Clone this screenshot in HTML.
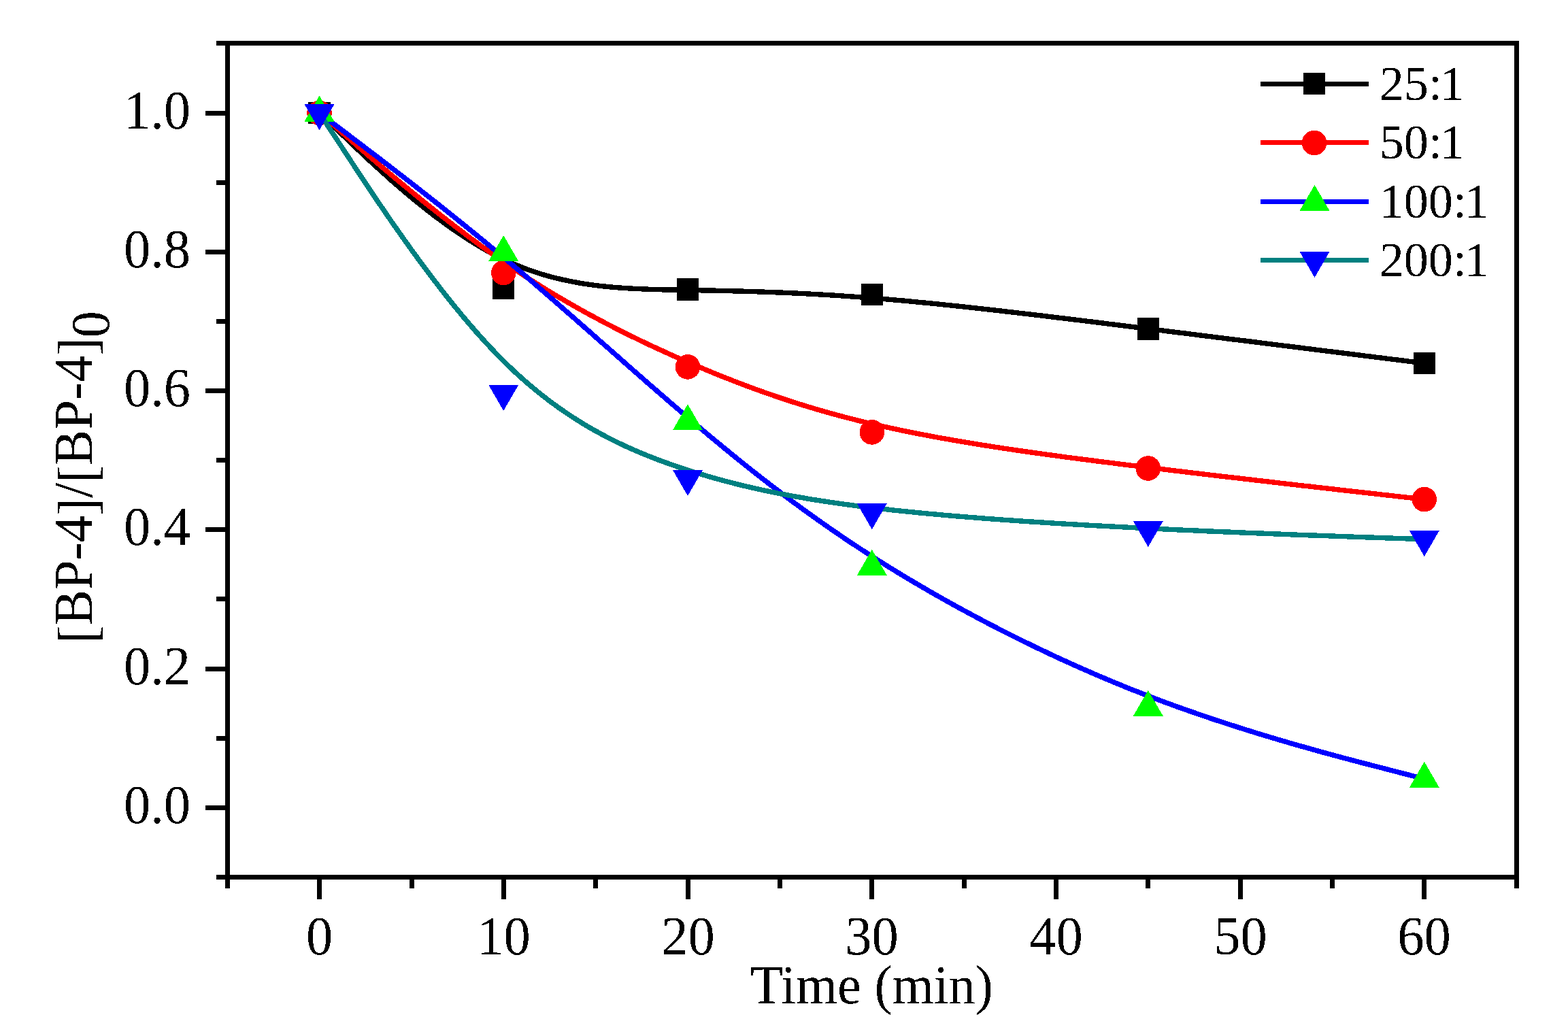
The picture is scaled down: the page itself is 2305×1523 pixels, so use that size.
<!DOCTYPE html>
<html lang="en"><head><meta charset="utf-8"><title>[BP-4]/[BP-4]0 vs Time (min)</title>
<style>html,body{margin:0;padding:0;background:#fff;}body{width:2305px;height:1523px;overflow:hidden;}svg{display:block;}text{font-family:"Liberation Serif","DejaVu Serif",serif;fill:#000;}</style>
</head><body>
<svg width="2305" height="1523" viewBox="0 0 2305 1523" role="img" aria-label="Line chart of [BP-4]/[BP-4]0 versus time">
<rect x="0" y="0" width="2305" height="1523" fill="#fff"/>
<defs><filter id="crisp" filterUnits="userSpaceOnUse" x="0" y="0" width="2305" height="1523" color-interpolation-filters="sRGB"><feComponentTransfer><feFuncA type="discrete" tableValues="0 1"/></feComponentTransfer></filter></defs>
<g shape-rendering="crispEdges">
<path d="M469.5,166.0 L469.5,166.0 L469.5,166.0 L469.5,166.0 L469.5,166.0 L469.6,166.1 L469.6,166.1 L469.7,166.2 L469.8,166.3 L469.9,166.4 L470.1,166.6 L470.3,166.7 L470.5,167.0 L470.8,167.2 L471.1,167.5 L471.5,167.9 L471.9,168.3 L472.3,168.7 L472.9,169.2 L473.5,169.8 L474.1,170.4 L474.9,171.1 L475.7,171.9 L476.5,172.7 L477.5,173.6 L478.5,174.6 L479.7,175.7 L480.9,176.9 L482.2,178.1 L483.6,179.5 L485.1,180.9 L486.7,182.4 L488.5,184.1 L490.3,185.8 L492.3,187.7 L494.3,189.7 L496.5,191.7 L498.8,193.9 L501.3,196.3 L503.8,198.7 L506.6,201.3 L509.4,204.0 L512.4,206.9 L515.5,209.9 L518.8,213.0 L522.2,216.3 L525.8,219.6 L529.5,223.2 L533.4,226.8 L537.3,230.5 L541.4,234.3 L545.6,238.3 L550.0,242.3 L554.4,246.3 L559.0,250.5 L563.7,254.7 L568.5,259.0 L573.3,263.4 L578.3,267.8 L583.4,272.2 L588.6,276.6 L593.8,281.1 L599.2,285.6 L604.6,290.2 L610.1,294.7 L615.7,299.2 L621.3,303.8 L627.0,308.3 L632.8,312.8 L638.7,317.3 L644.6,321.7 L650.5,326.1 L656.5,330.4 L662.6,334.8 L668.6,339.0 L674.8,343.2 L680.9,347.3 L687.1,351.3 L693.4,355.3 L699.6,359.1 L705.9,362.9 L712.2,366.5 L718.5,370.1 L724.8,373.5 L731.2,376.8 L737.5,379.9 L743.8,383.0 L750.2,385.9 L756.5,388.6 L762.9,391.2 L769.2,393.7 L775.5,396.1 L781.9,398.3 L788.2,400.5 L794.5,402.5 L800.9,404.4 L807.2,406.2 L813.6,407.9 L819.9,409.4 L826.2,410.9 L832.6,412.3 L838.9,413.6 L845.3,414.8 L851.6,416.0 L857.9,417.0 L864.3,418.0 L870.6,418.9 L877.0,419.7 L883.3,420.5 L889.6,421.1 L896.0,421.8 L902.3,422.3 L908.7,422.9 L915.0,423.3 L921.3,423.7 L927.7,424.1 L934.0,424.4 L940.4,424.7 L946.7,425.0 L953.0,425.2 L959.4,425.4 L965.7,425.6 L972.1,425.8 L978.4,425.9 L984.7,426.0 L991.1,426.1 L997.4,426.2 L1003.8,426.4 L1010.1,426.5 L1016.4,426.6 L1022.8,426.7 L1029.1,426.8 L1035.5,426.9 L1041.8,427.0 L1048.2,427.1 L1054.6,427.3 L1061.0,427.4 L1067.4,427.6 L1073.8,427.7 L1080.2,427.9 L1086.7,428.0 L1093.1,428.2 L1099.6,428.4 L1106.1,428.6 L1112.7,428.8 L1119.3,429.0 L1125.9,429.3 L1132.5,429.5 L1139.2,429.8 L1145.9,430.0 L1152.6,430.3 L1159.4,430.6 L1166.2,430.9 L1173.0,431.2 L1179.9,431.6 L1186.9,431.9 L1193.9,432.3 L1200.9,432.7 L1208.0,433.1 L1215.1,433.5 L1222.3,433.9 L1229.6,434.4 L1236.9,434.9 L1244.2,435.4 L1251.7,435.9 L1259.1,436.4 L1266.7,437.0 L1274.3,437.6 L1282.0,438.2 L1289.7,438.8 L1297.6,439.4 L1305.5,440.1 L1313.4,440.8 L1321.5,441.5 L1329.6,442.2 L1337.8,443.0 L1346.0,443.8 L1354.3,444.6 L1362.7,445.4 L1371.1,446.2 L1379.6,447.1 L1388.2,448.0 L1396.8,448.9 L1405.5,449.8 L1414.2,450.7 L1423.0,451.7 L1431.8,452.6 L1440.7,453.6 L1449.6,454.6 L1458.5,455.6 L1467.5,456.6 L1476.6,457.7 L1485.7,458.7 L1494.8,459.8 L1503.9,460.9 L1513.1,461.9 L1522.4,463.0 L1531.6,464.1 L1540.9,465.2 L1550.2,466.4 L1559.5,467.5 L1568.9,468.6 L1578.3,469.8 L1587.7,470.9 L1597.1,472.1 L1606.5,473.2 L1616.0,474.4 L1625.4,475.6 L1634.9,476.8 L1644.4,477.9 L1653.9,479.1 L1663.4,480.3 L1672.9,481.5 L1682.4,482.7 L1691.9,483.8 L1701.4,485.0 L1710.9,486.2 L1720.4,487.4 L1729.8,488.6 L1739.3,489.7 L1748.7,490.9 L1758.1,492.1 L1767.4,493.3 L1776.7,494.4 L1785.9,495.6 L1795.1,496.7 L1804.3,497.9 L1813.3,499.0 L1822.3,500.1 L1831.3,501.2 L1840.1,502.3 L1848.9,503.4 L1857.5,504.5 L1866.1,505.6 L1874.6,506.6 L1882.9,507.7 L1891.2,508.7 L1899.3,509.7 L1907.3,510.7 L1915.2,511.7 L1923.0,512.7 L1930.6,513.6 L1938.1,514.6 L1945.4,515.5 L1952.6,516.4 L1959.6,517.2 L1966.4,518.1 L1973.1,518.9 L1979.6,519.7 L1985.9,520.5 L1992.1,521.3 L1998.0,522.0 L2003.8,522.8 L2009.3,523.5 L2014.7,524.1 L2019.8,524.8 L2024.8,525.4 L2029.5,526.0 L2034.0,526.5 L2038.2,527.1 L2042.3,527.6 L2046.2,528.1 L2049.8,528.5 L2053.3,528.9 L2056.6,529.4 L2059.7,529.7 L2062.6,530.1 L2065.3,530.4 L2067.9,530.8 L2070.4,531.1 L2072.6,531.4 L2074.7,531.6 L2076.7,531.9 L2078.5,532.1 L2080.2,532.3 L2081.8,532.5 L2083.2,532.7 L2084.6,532.8 L2085.8,533.0 L2086.9,533.1 L2087.8,533.3 L2088.7,533.4 L2089.5,533.5 L2090.2,533.6 L2090.9,533.6 L2091.4,533.7 L2091.9,533.8 L2092.3,533.8 L2092.6,533.9 L2092.9,533.9 L2093.2,533.9 L2093.4,533.9 L2093.5,534.0 L2093.6,534.0 L2093.7,534.0 L2093.7,534.0 L2093.8,534.0 L2093.8,534.0 L2093.8,534.0 L2093.8,534.0" fill="none" stroke="#000" stroke-width="7.4" stroke-linejoin="round" stroke-linecap="butt"/>
<rect x="453" y="150" width="33" height="32" fill="#000"/>
<rect x="724" y="408" width="32" height="32" fill="#000"/>
<rect x="995" y="409" width="32" height="33" fill="#000"/>
<rect x="1266" y="417" width="32" height="32" fill="#000"/>
<rect x="1672" y="467" width="32" height="33" fill="#000"/>
<rect x="2078" y="518" width="32" height="32" fill="#000"/>
<path d="M469.5,166.0 L469.5,166.0 L469.5,166.0 L469.5,166.0 L469.5,166.0 L469.6,166.1 L469.6,166.1 L469.7,166.2 L469.8,166.3 L469.9,166.4 L470.1,166.5 L470.3,166.7 L470.5,166.9 L470.8,167.1 L471.1,167.4 L471.5,167.7 L471.9,168.1 L472.3,168.5 L472.9,168.9 L473.5,169.4 L474.1,170.0 L474.9,170.7 L475.7,171.4 L476.5,172.1 L477.5,172.9 L478.5,173.9 L479.7,174.8 L480.9,175.9 L482.2,177.0 L483.6,178.3 L485.1,179.6 L486.7,181.0 L488.5,182.5 L490.3,184.1 L492.3,185.8 L494.3,187.5 L496.5,189.4 L498.8,191.5 L501.3,193.6 L503.8,195.8 L506.6,198.2 L509.4,200.6 L512.4,203.2 L515.5,206.0 L518.8,208.8 L522.2,211.8 L525.8,214.9 L529.5,218.1 L533.4,221.4 L537.3,224.8 L541.4,228.4 L545.6,232.0 L550.0,235.7 L554.4,239.5 L559.0,243.4 L563.7,247.4 L568.5,251.4 L573.3,255.5 L578.3,259.7 L583.4,264.0 L588.6,268.3 L593.8,272.7 L599.2,277.1 L604.6,281.6 L610.1,286.1 L615.7,290.6 L621.3,295.2 L627.0,299.8 L632.8,304.4 L638.7,309.1 L644.6,313.8 L650.5,318.5 L656.5,323.1 L662.6,327.8 L668.6,332.5 L674.8,337.2 L680.9,341.9 L687.1,346.6 L693.4,351.3 L699.6,355.9 L705.9,360.5 L712.2,365.1 L718.5,369.6 L724.8,374.1 L731.2,378.6 L737.5,383.0 L743.8,387.4 L750.2,391.7 L756.5,396.0 L762.9,400.2 L769.2,404.3 L775.5,408.5 L781.9,412.5 L788.2,416.5 L794.5,420.5 L800.9,424.4 L807.2,428.3 L813.6,432.1 L819.9,435.9 L826.2,439.6 L832.6,443.3 L838.9,447.0 L845.3,450.6 L851.6,454.2 L857.9,457.7 L864.3,461.2 L870.6,464.6 L877.0,468.0 L883.3,471.4 L889.6,474.7 L896.0,478.0 L902.3,481.3 L908.7,484.5 L915.0,487.7 L921.3,490.9 L927.7,494.0 L934.0,497.1 L940.4,500.2 L946.7,503.2 L953.0,506.2 L959.4,509.2 L965.7,512.1 L972.1,515.0 L978.4,517.9 L984.7,520.8 L991.1,523.6 L997.4,526.4 L1003.8,529.2 L1010.1,531.9 L1016.4,534.7 L1022.8,537.4 L1029.1,540.1 L1035.5,542.7 L1041.8,545.4 L1048.2,548.0 L1054.6,550.6 L1061.0,553.2 L1067.4,555.7 L1073.8,558.2 L1080.2,560.8 L1086.7,563.2 L1093.1,565.7 L1099.6,568.1 L1106.1,570.5 L1112.7,572.9 L1119.3,575.3 L1125.9,577.6 L1132.5,579.9 L1139.2,582.2 L1145.9,584.5 L1152.6,586.7 L1159.4,589.0 L1166.2,591.2 L1173.0,593.3 L1179.9,595.5 L1186.9,597.6 L1193.9,599.7 L1200.9,601.8 L1208.0,603.9 L1215.1,605.9 L1222.3,607.9 L1229.6,609.9 L1236.9,611.9 L1244.2,613.8 L1251.7,615.7 L1259.1,617.6 L1266.7,619.5 L1274.3,621.3 L1282.0,623.2 L1289.7,625.0 L1297.6,626.7 L1305.5,628.5 L1313.4,630.2 L1321.5,631.9 L1329.6,633.6 L1337.8,635.3 L1346.0,636.9 L1354.3,638.5 L1362.7,640.1 L1371.1,641.7 L1379.6,643.3 L1388.2,644.8 L1396.8,646.3 L1405.5,647.8 L1414.2,649.3 L1423.0,650.8 L1431.8,652.2 L1440.7,653.7 L1449.6,655.1 L1458.5,656.5 L1467.5,657.9 L1476.6,659.3 L1485.7,660.6 L1494.8,662.0 L1503.9,663.3 L1513.1,664.6 L1522.4,665.9 L1531.6,667.2 L1540.9,668.5 L1550.2,669.7 L1559.5,671.0 L1568.9,672.3 L1578.3,673.5 L1587.7,674.7 L1597.1,675.9 L1606.5,677.1 L1616.0,678.4 L1625.4,679.5 L1634.9,680.7 L1644.4,681.9 L1653.9,683.1 L1663.4,684.3 L1672.9,685.4 L1682.4,686.6 L1691.9,687.7 L1701.4,688.9 L1710.9,690.0 L1720.4,691.2 L1729.8,692.3 L1739.3,693.4 L1748.7,694.6 L1758.1,695.7 L1767.4,696.8 L1776.7,697.9 L1785.9,699.0 L1795.1,700.1 L1804.3,701.1 L1813.3,702.2 L1822.3,703.2 L1831.3,704.3 L1840.1,705.3 L1848.9,706.3 L1857.5,707.3 L1866.1,708.3 L1874.6,709.3 L1882.9,710.3 L1891.2,711.2 L1899.3,712.1 L1907.3,713.1 L1915.2,714.0 L1923.0,714.8 L1930.6,715.7 L1938.1,716.6 L1945.4,717.4 L1952.6,718.2 L1959.6,719.0 L1966.4,719.8 L1973.1,720.5 L1979.6,721.3 L1985.9,722.0 L1992.1,722.7 L1998.0,723.3 L2003.8,724.0 L2009.3,724.6 L2014.7,725.2 L2019.8,725.8 L2024.8,726.3 L2029.5,726.9 L2034.0,727.4 L2038.2,727.9 L2042.3,728.3 L2046.2,728.7 L2049.8,729.2 L2053.3,729.6 L2056.6,729.9 L2059.7,730.3 L2062.6,730.6 L2065.3,730.9 L2067.9,731.2 L2070.4,731.5 L2072.6,731.7 L2074.7,732.0 L2076.7,732.2 L2078.5,732.4 L2080.2,732.6 L2081.8,732.8 L2083.2,732.9 L2084.6,733.1 L2085.8,733.2 L2086.9,733.3 L2087.8,733.4 L2088.7,733.5 L2089.5,733.6 L2090.2,733.7 L2090.9,733.8 L2091.4,733.8 L2091.9,733.9 L2092.3,733.9 L2092.6,734.0 L2092.9,734.0 L2093.2,734.0 L2093.4,734.1 L2093.5,734.1 L2093.6,734.1 L2093.7,734.1 L2093.7,734.1 L2093.8,734.1 L2093.8,734.1 L2093.8,734.1 L2093.8,734.1" fill="none" stroke="#f00" stroke-width="7.4" stroke-linejoin="round" stroke-linecap="butt"/>
<circle cx="469.5" cy="166.0" r="18.3" fill="#f00"/>
<circle cx="740.2" cy="401.0" r="18.3" fill="#f00"/>
<circle cx="1011.0" cy="539.4" r="18.3" fill="#f00"/>
<circle cx="1281.8" cy="635.4" r="18.3" fill="#f00"/>
<circle cx="1687.8" cy="688.5" r="18.3" fill="#f00"/>
<circle cx="2093.8" cy="734.1" r="18.3" fill="#f00"/>
<path d="M469.5,166.0 L469.5,166.0 L469.5,166.0 L469.5,166.0 L469.5,166.0 L469.6,166.1 L469.6,166.1 L469.7,166.2 L469.8,166.2 L469.9,166.3 L470.1,166.4 L470.3,166.6 L470.5,166.8 L470.8,167.0 L471.1,167.2 L471.5,167.5 L471.9,167.8 L472.3,168.2 L472.9,168.6 L473.5,169.0 L474.1,169.5 L474.9,170.1 L475.7,170.7 L476.5,171.3 L477.5,172.1 L478.5,172.9 L479.7,173.7 L480.9,174.6 L482.2,175.6 L483.6,176.7 L485.1,177.9 L486.7,179.1 L488.5,180.4 L490.3,181.8 L492.3,183.3 L494.3,184.8 L496.5,186.5 L498.8,188.2 L501.3,190.1 L503.8,192.0 L506.6,194.1 L509.4,196.3 L512.4,198.5 L515.5,200.9 L518.8,203.4 L522.2,206.0 L525.8,208.7 L529.5,211.5 L533.4,214.4 L537.3,217.5 L541.4,220.6 L545.6,223.8 L550.0,227.1 L554.4,230.5 L559.0,234.0 L563.7,237.6 L568.5,241.3 L573.3,245.0 L578.3,248.9 L583.4,252.8 L588.6,256.8 L593.8,260.8 L599.2,265.0 L604.6,269.2 L610.1,273.5 L615.7,277.9 L621.3,282.3 L627.0,286.8 L632.8,291.3 L638.7,296.0 L644.6,300.6 L650.5,305.3 L656.5,310.1 L662.6,315.0 L668.6,319.8 L674.8,324.8 L680.9,329.7 L687.1,334.7 L693.4,339.8 L699.6,344.9 L705.9,350.0 L712.2,355.2 L718.5,360.4 L724.8,365.6 L731.2,370.9 L737.5,376.2 L743.8,381.5 L750.2,386.8 L756.5,392.2 L762.9,397.6 L769.2,402.9 L775.5,408.4 L781.9,413.8 L788.2,419.2 L794.5,424.7 L800.9,430.2 L807.2,435.7 L813.6,441.2 L819.9,446.7 L826.2,452.2 L832.6,457.8 L838.9,463.3 L845.3,468.9 L851.6,474.5 L857.9,480.0 L864.3,485.6 L870.6,491.2 L877.0,496.8 L883.3,502.4 L889.6,507.9 L896.0,513.5 L902.3,519.1 L908.7,524.7 L915.0,530.3 L921.3,535.9 L927.7,541.4 L934.0,547.0 L940.4,552.6 L946.7,558.1 L953.0,563.7 L959.4,569.2 L965.7,574.7 L972.1,580.2 L978.4,585.7 L984.7,591.2 L991.1,596.7 L997.4,602.1 L1003.8,607.6 L1010.1,613.0 L1016.4,618.4 L1022.8,623.8 L1029.1,629.1 L1035.5,634.5 L1041.8,639.8 L1048.2,645.1 L1054.6,650.4 L1061.0,655.7 L1067.4,660.9 L1073.8,666.2 L1080.2,671.4 L1086.7,676.6 L1093.1,681.8 L1099.6,687.0 L1106.1,692.2 L1112.7,697.3 L1119.3,702.5 L1125.9,707.6 L1132.5,712.7 L1139.2,717.8 L1145.9,722.9 L1152.6,728.0 L1159.4,733.1 L1166.2,738.2 L1173.0,743.2 L1179.9,748.3 L1186.9,753.3 L1193.9,758.3 L1200.9,763.3 L1208.0,768.3 L1215.1,773.3 L1222.3,778.3 L1229.6,783.3 L1236.9,788.3 L1244.2,793.2 L1251.7,798.2 L1259.1,803.1 L1266.7,808.1 L1274.3,813.0 L1282.0,818.0 L1289.7,822.9 L1297.6,827.8 L1305.5,832.8 L1313.4,837.7 L1321.5,842.6 L1329.6,847.5 L1337.8,852.4 L1346.0,857.3 L1354.3,862.2 L1362.7,867.0 L1371.1,871.9 L1379.6,876.7 L1388.2,881.6 L1396.8,886.4 L1405.5,891.2 L1414.2,896.0 L1423.0,900.7 L1431.8,905.4 L1440.7,910.2 L1449.6,914.9 L1458.5,919.5 L1467.5,924.2 L1476.6,928.8 L1485.7,933.4 L1494.8,937.9 L1503.9,942.4 L1513.1,946.9 L1522.4,951.4 L1531.6,955.8 L1540.9,960.2 L1550.2,964.6 L1559.5,968.9 L1568.9,973.1 L1578.3,977.4 L1587.7,981.6 L1597.1,985.7 L1606.5,989.8 L1616.0,993.9 L1625.4,997.9 L1634.9,1001.9 L1644.4,1005.8 L1653.9,1009.7 L1663.4,1013.5 L1672.9,1017.2 L1682.4,1021.0 L1691.9,1024.6 L1701.4,1028.2 L1710.9,1031.8 L1720.4,1035.2 L1729.8,1038.7 L1739.3,1042.0 L1748.7,1045.4 L1758.1,1048.6 L1767.4,1051.8 L1776.7,1055.0 L1785.9,1058.1 L1795.1,1061.1 L1804.3,1064.1 L1813.3,1067.0 L1822.3,1069.9 L1831.3,1072.7 L1840.1,1075.5 L1848.9,1078.2 L1857.5,1080.8 L1866.1,1083.4 L1874.6,1085.9 L1882.9,1088.4 L1891.2,1090.8 L1899.3,1093.2 L1907.3,1095.5 L1915.2,1097.7 L1923.0,1099.9 L1930.6,1102.1 L1938.1,1104.2 L1945.4,1106.2 L1952.6,1108.1 L1959.6,1110.0 L1966.4,1111.9 L1973.1,1113.7 L1979.6,1115.4 L1985.9,1117.1 L1992.1,1118.7 L1998.0,1120.3 L2003.8,1121.8 L2009.3,1123.2 L2014.7,1124.6 L2019.8,1126.0 L2024.8,1127.2 L2029.5,1128.4 L2034.0,1129.6 L2038.2,1130.7 L2042.3,1131.8 L2046.2,1132.8 L2049.8,1133.7 L2053.3,1134.6 L2056.6,1135.5 L2059.7,1136.3 L2062.6,1137.0 L2065.3,1137.7 L2067.9,1138.4 L2070.4,1139.0 L2072.6,1139.6 L2074.7,1140.2 L2076.7,1140.7 L2078.5,1141.1 L2080.2,1141.6 L2081.8,1142.0 L2083.2,1142.4 L2084.6,1142.7 L2085.8,1143.0 L2086.9,1143.3 L2087.8,1143.6 L2088.7,1143.8 L2089.5,1144.0 L2090.2,1144.2 L2090.9,1144.3 L2091.4,1144.5 L2091.9,1144.6 L2092.3,1144.7 L2092.6,1144.8 L2092.9,1144.9 L2093.2,1144.9 L2093.4,1145.0 L2093.5,1145.0 L2093.6,1145.1 L2093.7,1145.1 L2093.7,1145.1 L2093.8,1145.1 L2093.8,1145.1 L2093.8,1145.1 L2093.8,1145.1" fill="none" stroke="#00f" stroke-width="7.4" stroke-linejoin="round" stroke-linecap="butt"/>
<polygon points="469.5,140.7 491.5,178.7 447.5,178.7" fill="#0f0"/>
<polygon points="740.2,346.0 762.2,384.0 718.2,384.0" fill="#0f0"/>
<polygon points="1011.0,594.2 1033.0,632.2 989.0,632.2" fill="#0f0"/>
<polygon points="1281.8,807.9 1303.8,845.9 1259.8,845.9" fill="#0f0"/>
<polygon points="1687.8,1014.7 1709.8,1052.7 1665.8,1052.7" fill="#0f0"/>
<polygon points="2093.8,1119.8 2115.8,1157.8 2071.8,1157.8" fill="#0f0"/>
<path d="M469.5,166.0 L469.5,166.0 L469.5,166.0 L469.5,166.0 L469.5,166.1 L469.6,166.1 L469.6,166.2 L469.7,166.3 L469.8,166.5 L469.9,166.6 L470.1,166.9 L470.3,167.2 L470.5,167.5 L470.8,167.9 L471.1,168.4 L471.5,169.0 L471.9,169.6 L472.3,170.3 L472.9,171.1 L473.5,172.1 L474.1,173.1 L474.9,174.2 L475.7,175.4 L476.5,176.7 L477.5,178.2 L478.5,179.8 L479.7,181.5 L480.9,183.4 L482.2,185.4 L483.6,187.5 L485.1,189.8 L486.7,192.3 L488.5,194.9 L490.3,197.7 L492.3,200.7 L494.3,203.8 L496.5,207.2 L498.8,210.7 L501.3,214.4 L503.8,218.3 L506.6,222.5 L509.4,226.8 L512.4,231.4 L515.5,236.2 L518.8,241.2 L522.2,246.4 L525.8,251.8 L529.5,257.4 L533.4,263.2 L537.3,269.2 L541.4,275.4 L545.6,281.7 L550.0,288.2 L554.4,294.8 L559.0,301.5 L563.7,308.4 L568.5,315.4 L573.3,322.5 L578.3,329.7 L583.4,336.9 L588.6,344.3 L593.8,351.7 L599.2,359.2 L604.6,366.8 L610.1,374.4 L615.7,382.0 L621.3,389.6 L627.0,397.3 L632.8,405.0 L638.7,412.7 L644.6,420.3 L650.5,428.0 L656.5,435.6 L662.6,443.2 L668.6,450.7 L674.8,458.2 L680.9,465.6 L687.1,472.9 L693.4,480.2 L699.6,487.4 L705.9,494.4 L712.2,501.4 L718.5,508.2 L724.8,515.0 L731.2,521.5 L737.5,528.0 L743.8,534.3 L750.2,540.4 L756.5,546.4 L762.9,552.2 L769.2,557.9 L775.5,563.4 L781.9,568.8 L788.2,574.0 L794.5,579.1 L800.9,584.1 L807.2,589.0 L813.6,593.7 L819.9,598.3 L826.2,602.7 L832.6,607.1 L838.9,611.3 L845.3,615.4 L851.6,619.4 L857.9,623.3 L864.3,627.1 L870.6,630.8 L877.0,634.3 L883.3,637.8 L889.6,641.2 L896.0,644.5 L902.3,647.7 L908.7,650.8 L915.0,653.8 L921.3,656.8 L927.7,659.6 L934.0,662.4 L940.4,665.1 L946.7,667.7 L953.0,670.3 L959.4,672.8 L965.7,675.3 L972.1,677.6 L978.4,679.9 L984.7,682.2 L991.1,684.4 L997.4,686.6 L1003.8,688.7 L1010.1,690.8 L1016.4,692.8 L1022.8,694.8 L1029.1,696.7 L1035.5,698.6 L1041.8,700.5 L1048.2,702.3 L1054.6,704.1 L1061.0,705.9 L1067.4,707.6 L1073.8,709.2 L1080.2,710.9 L1086.7,712.5 L1093.1,714.1 L1099.6,715.6 L1106.1,717.1 L1112.7,718.6 L1119.3,720.1 L1125.9,721.5 L1132.5,722.9 L1139.2,724.2 L1145.9,725.6 L1152.6,726.9 L1159.4,728.2 L1166.2,729.4 L1173.0,730.6 L1179.9,731.8 L1186.9,733.0 L1193.9,734.2 L1200.9,735.3 L1208.0,736.4 L1215.1,737.5 L1222.3,738.6 L1229.6,739.6 L1236.9,740.6 L1244.2,741.7 L1251.7,742.6 L1259.1,743.6 L1266.7,744.6 L1274.3,745.5 L1282.0,746.4 L1289.7,747.3 L1297.6,748.2 L1305.5,749.1 L1313.4,750.0 L1321.5,750.9 L1329.6,751.7 L1337.8,752.5 L1346.0,753.3 L1354.3,754.2 L1362.7,755.0 L1371.1,755.7 L1379.6,756.5 L1388.2,757.3 L1396.8,758.0 L1405.5,758.8 L1414.2,759.5 L1423.0,760.2 L1431.8,760.9 L1440.7,761.6 L1449.6,762.3 L1458.5,763.0 L1467.5,763.6 L1476.6,764.3 L1485.7,764.9 L1494.8,765.6 L1503.9,766.2 L1513.1,766.8 L1522.4,767.4 L1531.6,768.0 L1540.9,768.6 L1550.2,769.2 L1559.5,769.8 L1568.9,770.3 L1578.3,770.9 L1587.7,771.4 L1597.1,772.0 L1606.5,772.5 L1616.0,773.0 L1625.4,773.5 L1634.9,774.0 L1644.4,774.5 L1653.9,775.0 L1663.4,775.5 L1672.9,776.0 L1682.4,776.5 L1691.9,776.9 L1701.4,777.4 L1710.9,777.9 L1720.4,778.3 L1729.8,778.8 L1739.3,779.2 L1748.7,779.6 L1758.1,780.0 L1767.4,780.5 L1776.7,780.9 L1785.9,781.3 L1795.1,781.7 L1804.3,782.0 L1813.3,782.4 L1822.3,782.8 L1831.3,783.2 L1840.1,783.5 L1848.9,783.9 L1857.5,784.2 L1866.1,784.6 L1874.6,784.9 L1882.9,785.2 L1891.2,785.6 L1899.3,785.9 L1907.3,786.2 L1915.2,786.5 L1923.0,786.8 L1930.6,787.0 L1938.1,787.3 L1945.4,787.6 L1952.6,787.8 L1959.6,788.1 L1966.4,788.3 L1973.1,788.6 L1979.6,788.8 L1985.9,789.0 L1992.1,789.3 L1998.0,789.5 L2003.8,789.7 L2009.3,789.9 L2014.7,790.1 L2019.8,790.2 L2024.8,790.4 L2029.5,790.6 L2034.0,790.7 L2038.2,790.9 L2042.3,791.0 L2046.2,791.1 L2049.8,791.3 L2053.3,791.4 L2056.6,791.5 L2059.7,791.6 L2062.6,791.7 L2065.3,791.8 L2067.9,791.9 L2070.4,792.0 L2072.6,792.1 L2074.7,792.1 L2076.7,792.2 L2078.5,792.3 L2080.2,792.3 L2081.8,792.4 L2083.2,792.4 L2084.6,792.5 L2085.8,792.5 L2086.9,792.6 L2087.8,792.6 L2088.7,792.6 L2089.5,792.7 L2090.2,792.7 L2090.9,792.7 L2091.4,792.7 L2091.9,792.7 L2092.3,792.7 L2092.6,792.8 L2092.9,792.8 L2093.2,792.8 L2093.4,792.8 L2093.5,792.8 L2093.6,792.8 L2093.7,792.8 L2093.7,792.8 L2093.8,792.8 L2093.8,792.8 L2093.8,792.8 L2093.8,792.8" fill="none" stroke="#008080" stroke-width="7.4" stroke-linejoin="round" stroke-linecap="butt"/>
<polygon points="469.5,191.3 491.5,153.3 447.5,153.3" fill="#00f"/>
<polygon points="740.2,603.9 762.2,565.9 718.2,565.9" fill="#00f"/>
<polygon points="1011.0,729.0 1033.0,691.0 989.0,691.0" fill="#00f"/>
<polygon points="1281.8,778.2 1303.8,740.2 1259.8,740.2" fill="#00f"/>
<polygon points="1687.8,804.0 1709.8,766.0 1665.8,766.0" fill="#00f"/>
<polygon points="2093.8,818.1 2115.8,780.1 2071.8,780.1" fill="#00f"/>
</g>
<g fill="#000" shape-rendering="crispEdges">
<rect x="318" y="60" width="1915" height="7"/>
<rect x="318" y="1286" width="1915" height="7"/>
<rect x="331" y="60" width="7" height="1246"/>
<rect x="2226" y="60" width="7" height="1246"/>
<rect x="466" y="1290" width="7" height="32"/>
<rect x="737" y="1290" width="7" height="32"/>
<rect x="1008" y="1290" width="7" height="32"/>
<rect x="1278" y="1290" width="7" height="32"/>
<rect x="1549" y="1290" width="7" height="32"/>
<rect x="1820" y="1290" width="7" height="32"/>
<rect x="2090" y="1290" width="7" height="32"/>
<rect x="602" y="1290" width="7" height="16"/>
<rect x="872" y="1290" width="7" height="16"/>
<rect x="1143" y="1290" width="7" height="16"/>
<rect x="1414" y="1290" width="7" height="16"/>
<rect x="1684" y="1290" width="7" height="16"/>
<rect x="1955" y="1290" width="7" height="16"/>
<rect x="302" y="1184" width="32" height="7"/>
<rect x="302" y="980" width="32" height="7"/>
<rect x="302" y="775" width="32" height="7"/>
<rect x="302" y="571" width="32" height="7"/>
<rect x="302" y="367" width="32" height="7"/>
<rect x="302" y="163" width="32" height="7"/>
<rect x="318" y="1082" width="16" height="7"/>
<rect x="318" y="877" width="16" height="7"/>
<rect x="318" y="673" width="16" height="7"/>
<rect x="318" y="469" width="16" height="7"/>
<rect x="318" y="265" width="16" height="7"/>
</g>
<g font-size="79.6" filter="url(#crisp)">
<text transform="translate(469.5,1402.5) scale(0.986,1)" text-anchor="middle">0</text>
<text transform="translate(740.5,1402.5) scale(0.986,1)" text-anchor="middle">10</text>
<text transform="translate(1011.5,1402.5) scale(0.986,1)" text-anchor="middle">20</text>
<text transform="translate(1281.5,1402.5) scale(0.986,1)" text-anchor="middle">30</text>
<text transform="translate(1552.5,1402.5) scale(0.986,1)" text-anchor="middle">40</text>
<text transform="translate(1823.5,1402.5) scale(0.986,1)" text-anchor="middle">50</text>
<text transform="translate(2093.5,1402.5) scale(0.986,1)" text-anchor="middle">60</text>
<text transform="translate(280.0,1209.9) scale(0.986,1)" text-anchor="end">0.0</text>
<text transform="translate(280.0,1005.9) scale(0.986,1)" text-anchor="end">0.2</text>
<text transform="translate(280.0,800.9) scale(0.986,1)" text-anchor="end">0.4</text>
<text transform="translate(280.0,596.9) scale(0.986,1)" text-anchor="end">0.6</text>
<text transform="translate(280.0,392.9) scale(0.986,1)" text-anchor="end">0.8</text>
<text transform="translate(280.0,188.9) scale(0.986,1)" text-anchor="end">1.0</text>
<text transform="translate(1281.5,1474.5) scale(0.986,1)" text-anchor="middle">Time (min)</text>
<text transform="translate(135.2,945.5) rotate(-90) scale(0.986,1)" text-anchor="start"><tspan dy="5">[</tspan><tspan dy="-5">BP-4</tspan><tspan dy="5">]</tspan><tspan dy="-5">/</tspan><tspan dy="5">[</tspan><tspan dy="-5">BP-4</tspan><tspan dy="5">]</tspan><tspan dy="20">0</tspan></text>
</g>
<g shape-rendering="crispEdges">
<rect x="1853" y="120" width="159" height="7" fill="#000"/>
<rect x="1916.0" y="107.0" width="32" height="32" fill="#000"/>
<rect x="1853" y="206" width="159" height="7" fill="#f00"/>
<circle cx="1932.0" cy="210.0" r="18.3" fill="#f00"/>
<rect x="1853" y="293" width="159" height="7" fill="#00f"/>
<polygon points="1932.5,271.9 1954.5,309.9 1910.5,309.9" fill="#0f0"/>
<rect x="1853" y="379" width="159" height="7" fill="#008080"/>
<polygon points="1932.5,408.0 1954.5,370.0 1910.5,370.0" fill="#00f"/>
</g>
<g font-size="72" filter="url(#crisp)">
<text x="2027.7" y="146.5">25:<tspan dx="-3">1</tspan></text>
<text x="2027.7" y="232.5">50:<tspan dx="-3">1</tspan></text>
<text x="2027.7" y="319.5">100:<tspan dx="-3">1</tspan></text>
<text x="2027.7" y="405.5">200:<tspan dx="-3">1</tspan></text>
</g>
</svg></body></html>
